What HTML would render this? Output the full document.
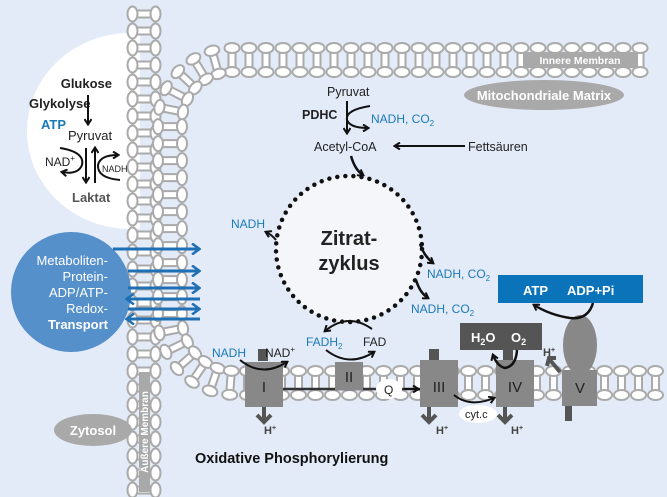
<!DOCTYPE html>
<html><head><meta charset="utf-8"><style>
html,body{margin:0;padding:0;background:#e3eaf8;}
svg{display:block;font-family:"Liberation Sans",sans-serif;}
.b{font-weight:bold}
.bl{fill:#1a7ab8}
</style></head><body>
<svg id="s" width="667" height="497" viewBox="0 0 667 497" xmlns="http://www.w3.org/2000/svg">
<defs>
<marker id="ah" markerWidth="8" markerHeight="8" refX="6" refY="4" orient="auto" markerUnits="userSpaceOnUse"><path d="M1,0.5 L6.5,4 L1,7.5" fill="none" stroke="#111" stroke-width="2"/></marker>
<marker id="ab" markerWidth="10" markerHeight="12" refX="8" refY="6" orient="auto" markerUnits="userSpaceOnUse"><path d="M1,0.5 L8.5,6 L1,11.5" fill="none" stroke="#1f6fb4" stroke-width="2.5"/></marker>
<clipPath id="cl"><rect x="0" y="0" width="140" height="497"/></clipPath>
</defs>
<rect width="667" height="497" fill="#e3eaf8"/>
<ellipse cx="130" cy="131" rx="103" ry="98" fill="#fff" clip-path="url(#cl)"/>
<g id="mem"></g>
<!-- membrane labels -->
<rect x="523" y="52" width="115" height="16" fill="#a9a9a9"/>
<text x="580" y="64" font-size="10.5" fill="#fff" class="b" text-anchor="middle">Innere Membran</text>
<rect x="139" y="372" width="11" height="120" fill="#a9a9a9"/>
<text transform="translate(148,432) rotate(-90)" font-size="10" fill="#fff" class="b" text-anchor="middle">Äußere Membran</text>
<ellipse cx="544" cy="95" rx="80" ry="15" fill="#a9a9a9"/>
<text x="544" y="100" font-size="13" fill="#fff" class="b" text-anchor="middle">Mitochondriale Matrix</text>
<ellipse cx="93" cy="430" rx="39" ry="16" fill="#a9a9a9"/>
<text x="93" y="435" font-size="13" fill="#fff" class="b" text-anchor="middle">Zytosol</text>

<!-- glycolysis -->
<text x="112" y="88" font-size="13" class="b" text-anchor="end" fill="#222">Glukose</text>
<text x="29" y="108" font-size="13" class="b" fill="#222">Glykolyse</text>
<line x1="88" y1="95" x2="88" y2="124" stroke="#111" stroke-width="2" marker-end="url(#ah)"/>
<text x="41" y="129" font-size="13" class="b bl">ATP</text>
<text x="68" y="140" font-size="13" fill="#222">Pyruvat</text>
<line x1="86" y1="148" x2="86" y2="182" stroke="#111" stroke-width="2" marker-end="url(#ah)"/>
<line x1="95" y1="183" x2="95" y2="148" stroke="#111" stroke-width="2" marker-end="url(#ah)"/>
<path d="M60,148 Q85,152 82,165 Q78,175 62,172" fill="none" stroke="#111" stroke-width="2" marker-end="url(#ah)"/>
<path d="M120,180 Q97,178 98,165 Q100,155 118,155" fill="none" stroke="#111" stroke-width="2" marker-end="url(#ah)"/>
<text x="45" y="166" font-size="12" fill="#222">NAD<tspan font-size="8" dy="-5">+</tspan></text>
<text x="102" y="172" font-size="9" fill="#222">NADH</text>
<text x="72" y="202" font-size="13" class="b" fill="#555">Laktat</text>

<!-- transport -->
<circle cx="71" cy="292" r="60" fill="#5590cb"/>
<g font-size="13" fill="#fff" text-anchor="end">
<text x="108" y="265">Metaboliten-</text>
<text x="108" y="281">Protein-</text>
<text x="108" y="297">ADP/ATP-</text>
<text x="108" y="313">Redox-</text>
<text x="108" y="329" class="b">Transport</text>
</g>
<g stroke="#1f6fb4" stroke-width="3" fill="none">
<line x1="113" y1="249" x2="199" y2="249" marker-end="url(#ab)"/>
<line x1="128" y1="271" x2="199" y2="271" marker-end="url(#ab)"/>
<line x1="128" y1="288" x2="199" y2="288" marker-end="url(#ab)"/>
<line x1="200" y1="299" x2="127" y2="299" marker-end="url(#ab)"/>
<line x1="128" y1="309" x2="199" y2="309" marker-end="url(#ab)"/>
<line x1="200" y1="319" x2="127" y2="319" marker-end="url(#ab)"/>
</g>

<!-- PDHC -->
<text x="327" y="96" font-size="12.5" fill="#222">Pyruvat</text>
<text x="302" y="119" font-size="12.5" class="b" fill="#222">PDHC</text>
<line x1="347" y1="101" x2="347" y2="133" stroke="#111" stroke-width="2" marker-end="url(#ah)"/>
<path d="M370,106 Q345,110 347,120 Q350,128 368,128" fill="none" stroke="#111" stroke-width="2" marker-end="url(#ah)"/>
<text x="371" y="123" font-size="12" class="bl">NADH, CO<tspan font-size="8" dy="3">2</tspan></text>
<text x="314" y="151" font-size="12.5" fill="#222">Acetyl-CoA</text>
<line x1="465" y1="146" x2="395" y2="146" stroke="#111" stroke-width="2" marker-end="url(#ah)"/>
<text x="468" y="151" font-size="12.5" fill="#222">Fettsäuren</text>
<path d="M351,156 Q355,170 363,175" fill="none" stroke="#111" stroke-width="2.5" marker-end="url(#ah)"/>

<!-- citric cycle -->
<circle cx="349" cy="249" r="73" fill="#f4f6fa" stroke="#111" stroke-width="4.5" stroke-dasharray="0 8.1" stroke-linecap="round"/>
<text x="349" y="245" font-size="20" class="b" text-anchor="middle" fill="#222">Zitrat-</text>
<text x="349" y="270" font-size="20" class="b" text-anchor="middle" fill="#222">zyklus</text>
<text x="231" y="228" font-size="12" class="bl">NADH</text>
<path d="M276,240 Q272,235 266,232" fill="none" stroke="#111" stroke-width="2" marker-end="url(#ah)"/>
<path d="M420,244 Q424,256 433,263" fill="none" stroke="#111" stroke-width="2.5" marker-end="url(#ah)"/>
<text x="427" y="278" font-size="12" class="bl">NADH, CO<tspan font-size="8" dy="3">2</tspan></text>
<path d="M416,280 Q420,293 428,298" fill="none" stroke="#111" stroke-width="2.5" marker-end="url(#ah)"/>
<text x="411" y="313" font-size="12" class="bl">NADH, CO<tspan font-size="8" dy="3">2</tspan></text>
<path d="M372,329 Q348,312 325,331" fill="none" stroke="#111" stroke-width="2" marker-end="url(#ah)"/>
<text x="306" y="346" font-size="12" class="bl">FADH<tspan font-size="8" dy="3">2</tspan></text>
<text x="363" y="346" font-size="12" fill="#222">FAD</text>
<path d="M326,350 Q349,368 374,352" fill="none" stroke="#111" stroke-width="2" marker-end="url(#ah)"/>

<!-- complexes -->
<g fill="#555"><rect x="258" y="349" width="10" height="12"/><rect x="429" y="349" width="10" height="12"/><rect x="503" y="349" width="10" height="12"/><rect x="565" y="405" width="7" height="16"/></g>
<line x1="283" y1="389" x2="420" y2="389" stroke="#333" stroke-width="2.5"/>
<g fill="#888">
<rect x="245" y="362" width="38" height="45"/>
<rect x="335" y="362" width="28" height="28"/>
<rect x="420" y="360" width="38" height="47"/>
<rect x="496" y="360" width="38" height="47"/>
<rect x="562" y="370" width="35" height="36"/>
</g>
<g font-size="15" fill="#222" text-anchor="middle">
<text x="264" y="392">I</text><text x="349" y="382">II</text><text x="439" y="392">III</text><text x="515" y="392">IV</text><text x="580" y="393">V</text>
</g>
<ellipse cx="389" cy="389" rx="13" ry="10" fill="#fff"/>
<text x="384" y="394" font-size="12" fill="#222">Q</text>
<line x1="404" y1="389" x2="418" y2="389" stroke="#111" stroke-width="2" marker-end="url(#ah)"/>
<path d="M454,395 Q470,408 494,398" fill="none" stroke="#111" stroke-width="2" marker-end="url(#ah)"/>
<ellipse cx="478" cy="414" rx="19" ry="9" fill="#fff"/>
<text x="465" y="418" font-size="11" fill="#222">cyt.c</text>
<text x="212" y="357" font-size="12" class="bl">NADH</text>
<text x="265" y="357" font-size="12" fill="#222">NAD<tspan font-size="8" dy="-5">+</tspan></text>
<path d="M240,360 Q262,378 287,362" fill="none" stroke="#111" stroke-width="2" marker-end="url(#ah)"/>
<!-- H+ down arrows -->
<g stroke="#555" stroke-width="4" fill="none">
<path d="M264,407 V421 M257,415 L264,422 L271,415"/>
<path d="M429,407 V421 M422,415 L429,422 L436,415"/>
<path d="M505,407 V421 M498,415 L505,422 L512,415"/>
</g>
<g font-size="11" class="b" fill="#444">
<text x="264" y="434">H<tspan font-size="7" dy="-4">+</tspan></text>
<text x="436" y="434">H<tspan font-size="7" dy="-4">+</tspan></text>
<text x="511" y="434">H<tspan font-size="7" dy="-4">+</tspan></text>
<text x="543" y="356">H<tspan font-size="7" dy="-4">+</tspan></text>
</g>
<path d="M560,372 L550,360 M547,366 L549,358 L556,358" stroke="#555" stroke-width="4" fill="none"/>
<!-- H2O box -->
<rect x="460" y="323" width="82" height="27" fill="#555"/>
<text x="471" y="342" font-size="13" class="b" fill="#fff">H<tspan font-size="9" dy="3">2</tspan><tspan dy="-3">O</tspan></text>
<text x="511" y="342" font-size="13" class="b" fill="#fff">O<tspan font-size="9" dy="3">2</tspan></text>
<path d="M517,350 Q516,366 505,368 Q497,366 493,355" fill="none" stroke="#111" stroke-width="2.5" marker-end="url(#ah)"/>
<!-- ATP -->
<rect x="498" y="275" width="145" height="28" fill="#0a73b9"/>
<text x="523" y="295" font-size="13" class="b" fill="#fff">ATP</text>
<text x="567" y="295" font-size="13" class="b" fill="#fff">ADP+Pi</text>
<ellipse cx="580" cy="345" rx="17" ry="30" fill="#888"/>
<path d="M593,303 Q588,320 570,318 Q550,315 534,305" fill="none" stroke="#111" stroke-width="2.5" marker-end="url(#ah)"/>

<text x="195" y="463" font-size="14.5" class="b" fill="#111">Oxidative Phosphorylierung</text>
</svg>
<script>
(function(){
var NS="http://www.w3.org/2000/svg",g=document.getElementById('mem');
function mem(d,sp,hd){
 var p=document.createElementNS(NS,'path');p.setAttribute('d',d);g.appendChild(p);
 var L=p.getTotalLength();g.removeChild(p);
 var out='';
 for(var s=0;s<=L;s+=sp){
  var a=p.getPointAtLength(s),b=p.getPointAtLength(Math.min(L,s+0.5)),c=p.getPointAtLength(Math.max(0,s-0.5));
  var ang=Math.atan2(b.y-c.y,b.x-c.x)*180/Math.PI;
  out+='<g transform="translate('+a.x.toFixed(1)+','+a.y.toFixed(1)+') rotate('+ang.toFixed(1)+')">'+
   '<rect x="-3.5" y="'+(-hd+4)+'" width="7" height="'+(2*hd-8)+'" fill="#fff" stroke="#aaa" stroke-width="2"/>'+
   '<ellipse cx="0" cy="'+(-hd)+'" rx="7.5" ry="5" fill="#fff" stroke="#aaa" stroke-width="2"/>'+
   '<ellipse cx="0" cy="'+hd+'" rx="7.5" ry="5" fill="#fff" stroke="#aaa" stroke-width="2"/></g>';
 }
 g.insertAdjacentHTML('beforeend',out);
}
mem('M144,14 V497',17,11.5);
mem('M640,60 H232 A62,62 0 0 0 170,122 V318 A65,65 0 0 0 235,383 H660',17,12);
})();
</script>
</body></html>
